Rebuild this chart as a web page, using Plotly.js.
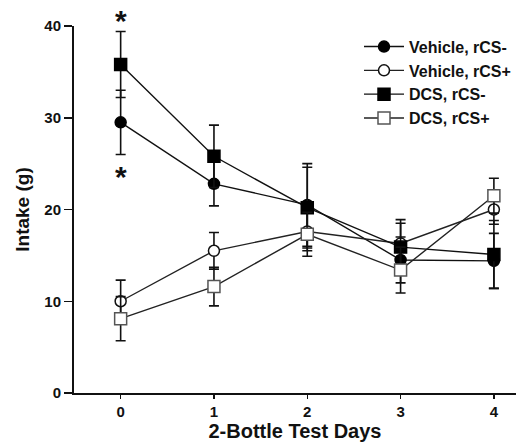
<!DOCTYPE html>
<html>
<head>
<meta charset="utf-8">
<script src="https://cdn.plot.ly/plotly-3.0.1.min.js"></script>
<style>html,body{margin:0;padding:0;background:#fff}#chart{width:516px;height:442px}</style>
</head>
<body>
<div id="chart"></div>
<script>
const days = [0, 1, 2, 3, 4];
const seriesNames = ["Vehicle, rCS-", "Vehicle, rCS+", "DCS, rCS-", "DCS, rCS+"];
const vehicleMinus = [29.5, 22.8, 20.5, 14.5, 14.4];
const vehicleMinusErr = [3.5, 2.4, 4.5, 2.5, 3.0];
const vehiclePlus = [10.0, 15.5, 17.6, 16.3, 20.0];
const vehiclePlusErr = [2.3, 2.0, 2.1, 2.6, 1.6];
const dcsMinus = [35.8, 25.8, 20.2, 15.9, 15.1];
const dcsMinusErr = [3.6, 3.4, 4.4, 2.6, 3.7];
const dcsPlus = [8.1, 11.6, 17.3, 13.4, 21.5];
const dcsPlusErr = [2.4, 2.1, 2.4, 2.5, 1.9];
const starDays = [0, 0];
const starValues = [41.1, 24.1];
const yTicks = [0, 10, 20, 30, 40];
const yRange = [0, 40];

const FONT = "Liberation Sans, Arial, Helvetica, sans-serif";

function mk(name, y, err, symbol, size, fill, edge, lineColor) {
  return {
    x: days, y: y, name: name, type: "scatter", mode: "lines+markers",
    line: {color: lineColor, width: 1.4},
    marker: {symbol: symbol, size: size, color: fill, line: {color: edge, width: 1.5}},
    error_y: {type: "data", array: err, visible: true, color: "#111", thickness: 1.6, width: 5},
    cliponaxis: false
  };
}

const data = [
  mk(seriesNames[0], vehicleMinus, vehicleMinusErr, "circle", 11, "#000", "#000", "#111"),
  mk(seriesNames[1], vehiclePlus, vehiclePlusErr, "circle", 11, "#fff", "#111", "#222"),
  mk(seriesNames[2], dcsMinus, dcsMinusErr, "square", 12, "#000", "#000", "#111"),
  mk(seriesNames[3], dcsPlus, dcsPlusErr, "square", 12, "#fff", "#555", "#222")
];

const layout = {
  width: 516, height: 442,
  margin: {l: 74, r: 0, t: 26, b: 49},
  paper_bgcolor: "#fff", plot_bgcolor: "#fff",
  font: {family: FONT, color: "#111"},
  showlegend: true,
  legend: {
    x: 1.0, y: 0.99, xanchor: "right", yanchor: "top",
    font: {family: FONT, size: 16, weight: "bold", color: "#111"},
    bgcolor: "rgba(0,0,0,0)", tracegroupgap: 0, itemwidth: 40
  },
  xaxis: {
    range: [-0.5, 4.237], tickvals: days, ticktext: days.map(String),
    showgrid: false, zeroline: false, showline: true, linecolor: "#111", linewidth: 2,
    ticks: "outside", ticklen: 4, tickwidth: 1.5, tickcolor: "#111",
    tickfont: {family: FONT, size: 15, weight: "bold"},
    title: {text: "2-Bottle Test Days", font: {family: FONT, size: 20, weight: "bold"}, standoff: 4}
  },
  yaxis: {
    range: yRange, tickvals: yTicks, ticktext: yTicks.map(String),
    showgrid: false, zeroline: false, showline: true, linecolor: "#111", linewidth: 2,
    ticks: "outside", ticklen: 8, tickwidth: 1.5, tickcolor: "#111",
    tickfont: {family: FONT, size: 15, weight: "bold"},
    title: {text: "Intake (g)", font: {family: FONT, size: 19, weight: "bold"}, standoff: 10}
  },
  annotations: starDays.map((d, i) => ({
    x: d, xref: "x", y: (starValues[i] - yRange[0]) / (yRange[1] - yRange[0]), yref: "paper",
    text: "*", showarrow: false, yanchor: "middle", yshift: -5,
    font: {family: FONT, size: 30, weight: "bold", color: "#111"}
  }))
};

Plotly.newPlot("chart", data, layout, {displayModeBar: false, staticPlot: true});
</script>
</body>
</html>
